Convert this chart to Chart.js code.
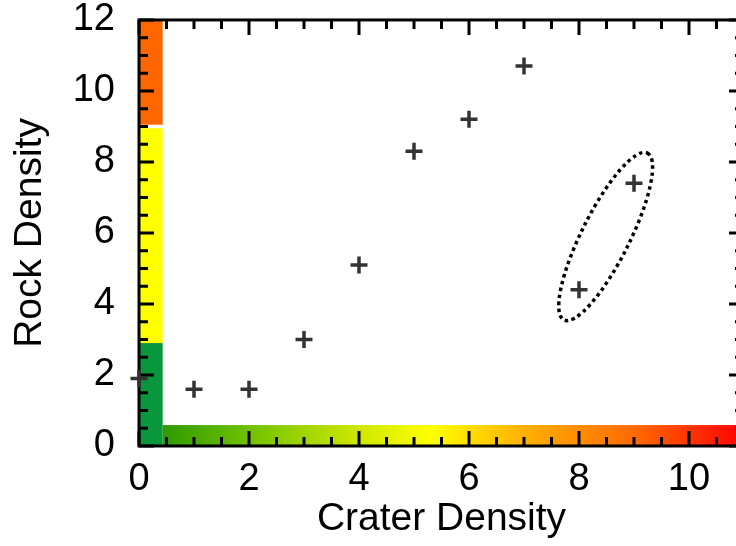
<!DOCTYPE html>
<html>
<head>
<meta charset="utf-8">
<script src="https://cdn.jsdelivr.net/npm/chart.js@4/dist/chart.umd.min.js"></script>
<style>
html,body{margin:0;padding:0;background:#fff;overflow:hidden;}
#wrap{width:760px;height:546px;}
</style>
</head>
<body>
<div id="wrap"><canvas id="c" width="760" height="546"></canvas></div>
<script>
// ---- data ----
const craterDensity = [0, 1, 2, 3, 4, 5, 6, 7, 8, 9];
const rockDensity   = [1.9, 1.6, 1.6, 3.0, 5.1, 8.3, 9.2, 10.7, 4.4, 7.4];
const xTickValues = [0, 2, 4, 6, 8, 10];
const yTickValues = [0, 2, 4, 6, 8, 10, 12];
const xRange = [0, 11];
const yRange = [0, 12];
// colour key along the rock-density axis: [from, to]
const rockBandEdges = [[0, 2.9], [2.9, 8.95], [9.05, 12]];
const rockBandColors = ['#0a963c', '#ffff00', '#ff6600'];
// colour key along the crater-density axis (gradient stops, in x units)
const craterStops = [0.43, 2, 4, 5.3, 7, 9, 11];
const craterStopColors = ['#2e9a00', '#70c200', '#cfe800', '#ffff00', '#ffb000', '#ff6a00', '#ff0000'];
const keyThicknessX = 0.43; // width of vertical key in x units
const keyThicknessY = 0.59; // height of horizontal key in y units
// highlighted pair (ellipse): major-axis end points in data units
const ellipseEnds = [[9.26, 8.3], [7.71, 3.5]];

const tickColor = '#000';

const keyPlugin = {
  id: 'keys',
  beforeDatasetsDraw(chart) {
    const {ctx, scales: {x, y}} = chart;
    ctx.save();
    const x0 = x.getPixelForValue(0), x1 = x.getPixelForValue(keyThicknessX);
    rockBandEdges.forEach((b, i) => {
      const yt = y.getPixelForValue(b[1]), yb = y.getPixelForValue(b[0]);
      ctx.fillStyle = rockBandColors[i];
      ctx.fillRect(x0, yt, x1 - x0, yb - yt);
    });
    const xs = x.getPixelForValue(craterStops[0]);
    const xe = x.getPixelForValue(craterStops[craterStops.length - 1]);
    const g = ctx.createLinearGradient(xs, 0, xe, 0);
    craterStops.forEach((s, i) => {
      g.addColorStop((x.getPixelForValue(s) - xs) / (xe - xs), craterStopColors[i]);
    });
    ctx.fillStyle = g;
    const yt = y.getPixelForValue(keyThicknessY), yb = y.getPixelForValue(0);
    ctx.fillRect(xs, yt, xe - xs, yb - yt);

    const a = chart.chartArea;
    ctx.strokeStyle = tickColor;
    ctx.lineWidth = 3;
    ctx.strokeRect(a.left, a.top, a.right - a.left, a.bottom - a.top);
    ctx.beginPath();
    for (let v = xRange[0]; v <= xRange[1] + 1e-9; v += 0.5) {
      const px = x.getPixelForValue(v);
      const len = (Math.abs(v % 2) < 1e-9) ? 15 : 9;
      ctx.moveTo(px, a.bottom); ctx.lineTo(px, a.bottom - len);
      ctx.moveTo(px, a.top); ctx.lineTo(px, a.top + len);
    }
    for (let v = yRange[0]; v <= yRange[1] + 1e-9; v += 0.5) {
      const py = y.getPixelForValue(v);
      const len = (Math.abs(v % 2) < 1e-9) ? 15 : 9;
      ctx.moveTo(a.left, py); ctx.lineTo(a.left + len, py);
      ctx.moveTo(a.right, py); ctx.lineTo(a.right - len, py);
    }
    ctx.stroke();
    ctx.restore();
  },
  afterDatasetsDraw(chart) {
    const {ctx, scales: {x, y}} = chart;
    const p1 = [x.getPixelForValue(ellipseEnds[0][0]), y.getPixelForValue(ellipseEnds[0][1])];
    const p2 = [x.getPixelForValue(ellipseEnds[1][0]), y.getPixelForValue(ellipseEnds[1][1])];
    const cx = (p1[0] + p2[0]) / 2, cy = (p1[1] + p2[1]) / 2;
    const dx = p1[0] - p2[0], dy = p1[1] - p2[1];
    const rx = Math.hypot(dx, dy) / 2 - 2;
    const ang = Math.atan2(dy, dx);
    ctx.save();
    ctx.strokeStyle = '#000';
    ctx.lineWidth = 3.5;
    ctx.setLineDash([3.5, 3.5]);
    ctx.beginPath();
    ctx.ellipse(cx, cy, rx, 24, ang, 0, Math.PI * 2);
    ctx.stroke();
    ctx.restore();
  }
};

const fontFamily = '"Liberation Sans", Arial, Helvetica, sans-serif';

new Chart(document.getElementById('c'), {
  type: 'scatter',
  data: {
    datasets: [{
      data: craterDensity.map((c, i) => ({x: c, y: rockDensity[i]})),
      pointStyle: 'cross',
      pointRadius: 8.5,
      pointHoverRadius: 8.5,
      borderColor: '#333',
      backgroundColor: '#333',
      pointBorderWidth: 3.5,
      borderWidth: 3.5,
      clip: false
    }]
  },
  options: {
    responsive: false,
    animation: false,
    events: [],
    layout: {padding: {top: 0, right: 16, left: 0, bottom: 0}},
    plugins: {legend: {display: false}, tooltip: {enabled: false}},
    scales: {
      x: {
        type: 'linear', min: xRange[0], max: xRange[1],
        afterBuildTicks: s => { s.ticks = xTickValues.map(v => ({value: v})); },
        afterFit: s => { s.height = 100; },
        grid: {display: false, drawTicks: false},
        border: {display: false},
        ticks: {color: '#000', font: {family: fontFamily, size: 38, lineHeight: 1.05}, padding: 14, maxRotation: 0, autoSkip: false},
        title: {display: true, text: 'Crater Density', color: '#000', font: {family: fontFamily, size: 39}, padding: {top: 0, bottom: 3}}
      },
      y: {
        type: 'linear', min: yRange[0], max: yRange[1],
        afterBuildTicks: s => { s.ticks = yTickValues.map(v => ({value: v})); },
        afterFit: s => { s.width = 139; },
        grid: {display: false, drawTicks: true, tickLength: 24},
        border: {display: false},
        ticks: {color: '#000', font: {family: fontFamily, size: 38, lineHeight: 1.05}, padding: 0, autoSkip: false},
        title: {display: true, text: 'Rock Density', color: '#000', font: {family: fontFamily, size: 39}, padding: {top: 7, bottom: 0}}
      }
    }
  },
  plugins: [keyPlugin]
});
</script>
</body>
</html>
